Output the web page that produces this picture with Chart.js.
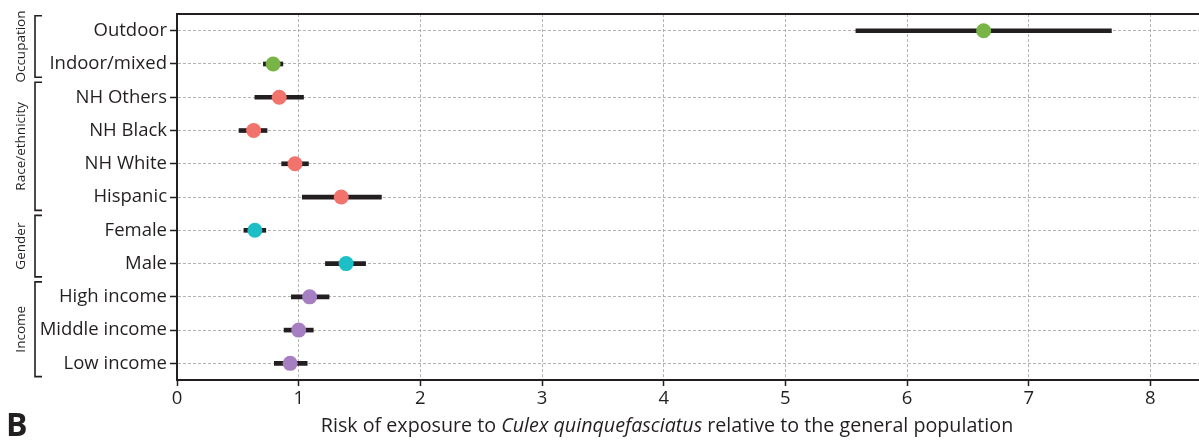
<!DOCTYPE html>
<html>
<head>
<meta charset="utf-8">
<script src="https://cdn.jsdelivr.net/npm/chart.js@4.4.0/dist/chart.umd.min.js"></script>
<style>
  html, body { margin: 0; padding: 0; background: #fff; overflow: hidden; }
  #wrap { width: 1199px; height: 441px; position: relative; }
</style>
</head>
<body>
<div id="wrap"><canvas id="chart"></canvas></div>
<script>
// data
const categories = ['Outdoor', 'Indoor/mixed', 'NH Others', 'NH Black', 'NH White', 'Hispanic',
                    'Female', 'Male', 'High income', 'Middle income', 'Low income'];
const riskValues = [6.63, 0.79, 0.84, 0.63, 0.97, 1.35, 0.64, 1.39, 1.09, 1.00, 0.93];
const ciLower    = [5.58, 0.71, 0.64, 0.51, 0.86, 1.03, 0.55, 1.22, 0.94, 0.88, 0.80];
const ciUpper    = [7.68, 0.87, 1.04, 0.74, 1.08, 1.68, 0.73, 1.55, 1.25, 1.12, 1.07];
const groupNames = ['Occupation', 'Race/ethnicity', 'Gender', 'Income'];
const groupFirst = [0, 2, 6, 8];
const groupLast  = [1, 5, 7, 10];

const groupColors = ['#79b546', '#f2736b', '#1dbfc6', '#a67fc2'];
const ink = '#231f20';
const font = '"Open Sans", sans-serif';

const pointColors = categories.map((c, i) => {
    const g = groupFirst.findIndex((f, k) => i >= f && i <= groupLast[k]);
    return groupColors[g];
});

const decorations = {
    id: 'decorations',
    afterDraw(chart) {
        const ctx = chart.ctx, area = chart.chartArea, y = chart.scales.y;
        ctx.save();
        // top frame line
        ctx.strokeStyle = ink;
        ctx.lineWidth = 2;
        ctx.beginPath();
        ctx.moveTo(area.left, area.top);
        ctx.lineTo(area.right, area.top);
        ctx.stroke();

        // group brackets + rotated labels
        const step = y.getPixelForValue(1) - y.getPixelForValue(0);
        ctx.lineWidth = 1.6;
        groupNames.forEach((name, k) => {
            const y1 = y.getPixelForValue(groupFirst[k]) - step * 0.45;
            const y2 = y.getPixelForValue(groupLast[k]) + step * 0.4;
            ctx.beginPath();
            ctx.moveTo(42, y1);
            ctx.lineTo(35, y1);
            ctx.lineTo(35, y2);
            ctx.lineTo(42, y2);
            ctx.stroke();
            ctx.save();
            ctx.translate(21, (y1 + y2) / 2);
            ctx.rotate(-Math.PI / 2);
            ctx.fillStyle = ink;
            ctx.font = '13.5px ' + font;
            ctx.textAlign = 'center';
            ctx.textBaseline = 'middle';
            ctx.fillText(name, 0, 0);
            ctx.restore();
        });

        // x axis title with italic species name
        const parts = [
            ['Risk of exposure to ', 'normal'],
            ['Culex quinquefasciatus', 'italic'],
            [' relative to the general population', 'normal']
        ];
        let total = 0;
        parts.forEach(p => { ctx.font = p[1] + ' 19.7px ' + font; total += ctx.measureText(p[0]).width; });
        let x = 667 - total / 2;
        ctx.fillStyle = ink;
        ctx.textBaseline = 'alphabetic';
        ctx.textAlign = 'left';
        parts.forEach(p => {
            ctx.font = p[1] + ' 19.7px ' + font;
            ctx.fillText(p[0], x, 432);
            x += ctx.measureText(p[0]).width;
        });

        // panel letter
        ctx.font = 'bold 32px ' + font;
        ctx.fillText('B', 6, 436);
        ctx.restore();
    }
};

new Chart(document.getElementById('chart'), {
    type: 'bar',
    data: {
        labels: categories,
        datasets: [{
            data: categories.map((c, i) => [ciLower[i], ciUpper[i]]),
            backgroundColor: ink,
            barThickness: 4,
            borderSkipped: false,
            order: 2
        }, {
            type: 'line',
            indexAxis: 'y',
            data: riskValues,
            showLine: false,
            pointRadius: 7.5,
            pointHoverRadius: 7.5,
            pointBorderWidth: 0,
            pointBackgroundColor: pointColors,
            order: 1
        }]
    },
    options: {
        indexAxis: 'y',
        responsive: true,
        maintainAspectRatio: false,
        animation: false,
        layout: { autoPadding: false, padding: { top: 13, left: 0, right: 0, bottom: 0 } },
        plugins: { legend: { display: false }, tooltip: { enabled: false } },
        scales: {
            x: {
                type: 'linear',
                min: 0,
                max: 8.4,
                ticks: { stepSize: 1, includeBounds: false, color: ink, font: { family: font, size: 18.5 }, padding: 2 },
                grid: { color: '#a0a0a0', lineWidth: 0.8, tickColor: ink, tickLength: 6, tickWidth: 1.5 },
                border: { color: ink, width: 2, dash: [3, 2] },
                afterFit: s => { s.height = 61; }
            },
            y: {
                type: 'category',
                offset: true,
                ticks: { color: ink, font: { family: font, size: 18.5 }, padding: 3 },
                grid: { offset: false, color: '#a0a0a0', lineWidth: 0.8, tickColor: ink, tickLength: 7, tickWidth: 1.5 },
                border: { color: ink, width: 2, dash: [3, 2] },
                afterFit: s => { s.width = 177; }
            }
        }
    },
    plugins: [decorations]
});
</script>
</body>
</html>
